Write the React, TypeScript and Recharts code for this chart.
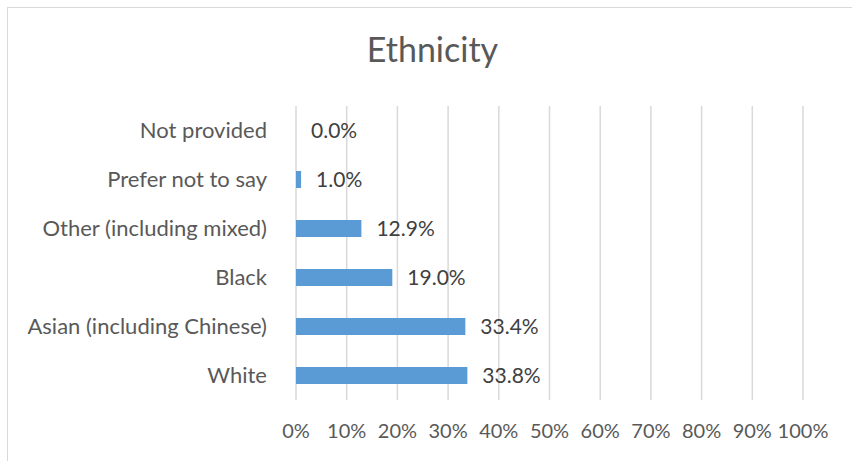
import React from "react";
import { BarChart, Bar, XAxis, YAxis, CartesianGrid, LabelList } from "recharts";

const categories = [
  "Not provided",
  "Prefer not to say",
  "Other (including mixed)",
  "Black",
  "Asian (including Chinese)",
  "White",
];
const values = [0.0, 1.0, 12.9, 19.0, 33.4, 33.8];
const xTicks = [0, 10, 20, 30, 40, 50, 60, 70, 80, 90, 100];

const data = categories.map((c, i) => ({ name: c, value: values[i] }));

const FONT = "Lato, 'Open Sans', sans-serif";

export default function App() {
  return (
    <div
      style={{
        position: "fixed",
        left: 0,
        top: 0,
        width: 852,
        height: 461,
        overflow: "hidden",
        background: "#fff",
        fontFamily: FONT,
      }}
    >
      <div
        style={{
          position: "absolute",
          left: 7,
          top: 7,
          width: 900,
          height: 500,
          border: "1px solid #D9D9D9",
          boxSizing: "border-box",
        }}
      />
      <div
        style={{
          position: "absolute",
          left: 0,
          top: 29,
          width: 852,
          textAlign: "center",
          paddingLeft: 13,
          boxSizing: "border-box",
          fontSize: 34,
          color: "#595959",
          lineHeight: "40px",
        }}
      >
        Ethnicity
      </div>
      <div style={{ position: "absolute", left: 0, top: 0 }}>
        <BarChart
          width={852}
          height={461}
          data={data}
          layout="vertical"
          margin={{ top: 106, right: 49, bottom: 0, left: 0 }}
          barCategoryGap="65%"
        >
          <CartesianGrid horizontal={false} stroke="#D9D9D9" strokeWidth={1.5} />
          <XAxis
            type="number"
            domain={[0, 100]}
            ticks={xTicks}
            tickFormatter={(v: number) => `${v}%`}
            axisLine={false}
            tickLine={false}
            tickSize={0}
            tickMargin={24}
            height={61}
            interval={0}
            tick={{ fill: "#595959", fontSize: 20, fontFamily: FONT }}
          />
          <YAxis
            type="category"
            dataKey="name"
            width={296}
            axisLine={false}
            tickLine={false}
            tickSize={0}
            tickMargin={29}
            interval={0}
            tick={{ fill: "#595959", fontSize: 22, fontFamily: FONT }}
          />
          <Bar
            dataKey="value"
            fill="#5B9BD5"
            isAnimationActive={false}
            barSize={17}
            minPointSize={0.01}
          >
            <LabelList
              dataKey="value"
              position="right"
              offset={15}
              formatter={(v: number) => `${Number(v).toFixed(1)}%`}
              style={{ fill: "#404040", fontSize: 21, fontFamily: FONT }}
            />
          </Bar>
        </BarChart>
      </div>
    </div>
  );
}
